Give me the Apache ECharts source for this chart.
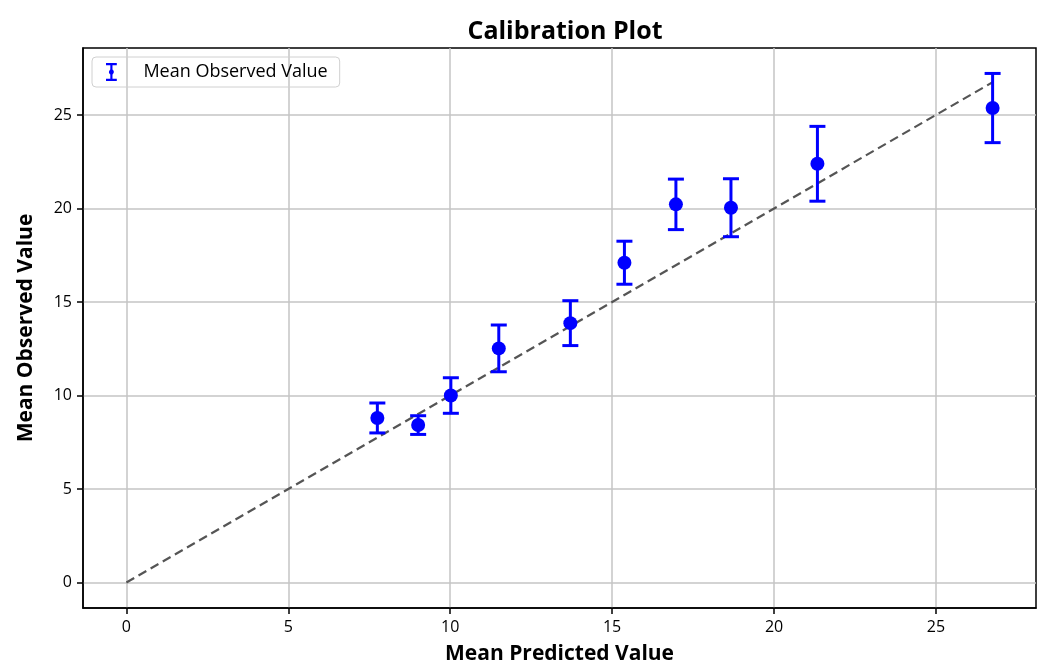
<!DOCTYPE html>
<html>
<head>
<meta charset="utf-8">
<script src="https://cdn.jsdelivr.net/npm/echarts@6/dist/echarts.min.js"></script>
<style>
  html, body { margin: 0; padding: 0; background: #fff; }
  #calib-view { width: 1046px; height: 664px; }
</style>
</head>
<body>
<div id="calib-view"></div>
<script>
// values
var predicted = [7.75, 9.01, 10.02, 11.5, 13.71, 15.38, 16.97, 18.67, 21.34, 26.75];
var observed = [8.8, 8.42, 10.0, 12.52, 13.87, 17.1, 20.22, 20.04, 22.39, 25.37];
var yerr = [0.8, 0.5, 0.95, 1.25, 1.2, 1.15, 1.35, 1.55, 2.0, 1.85];
var idealLine = [0, 26.75];
var tickValues = [0, 5, 10, 15, 20, 25];

var points = predicted.map(function (x, i) { return [x, observed[i]]; });
var bars = predicted.map(function (x, i) { return [x, observed[i] - yerr[i], observed[i] + yerr[i]]; });

var blue = "#0000ff";
var font = "Open Sans";
var errIcon = "path://M2 0H14V2.4H9.2V7.2A3.6 3.6 0 0 1 9.2 12.8V17.6H14V20H2V17.6H6.8V12.8A3.6 3.6 0 0 1 6.8 7.2V2.4H2Z";

function axisOpts(name, gap) {
  return {
    type: "value",
    name: name,
    nameLocation: "middle",
    nameGap: gap,
    nameTextStyle: { fontFamily: font, fontSize: 21, color: "#000", fontWeight: "bold" },
    axisLine: { show: true, onZero: false, lineStyle: { color: "#000", width: 1.5 } },
    axisTick: { show: true, inside: false, length: 6, lineStyle: { color: "#000", width: 1.5 }, customValues: tickValues },
    axisLabel: { fontFamily: font, fontSize: 16, color: "#000", margin: 11, customValues: tickValues },
    splitLine: { show: true, lineStyle: { color: "#c4c4c4", width: 1.5 } },
  };
}

var myChart = echarts.init(document.getElementById("calib-view"));
var xAxis = axisOpts("Mean Predicted Value", 36);
xAxis.min = -1.34;
xAxis.max = 28.09;
var yAxis = axisOpts("Mean Observed Value", 46);
yAxis.min = -1.36;
yAxis.max = 28.58;

myChart.setOption({
  animation: false,
  title: {
    text: "Calibration Plot",
    left: 560,
    textAlign: "center",
    top: 14,
    textStyle: { fontFamily: font, fontSize: 25, fontWeight: "bold", color: "#000" },
  },
  legend: {
    left: 92,
    top: 57,
    padding: [6, 12, 6, 14],
    borderColor: "#d0d0d0",
    borderWidth: 1,
    borderRadius: 4,
    itemWidth: 16,
    itemHeight: 18,
    itemGap: 10,
    textStyle: { fontFamily: font, fontSize: 18, color: "#000", padding: [0, 0, 0, 19] },
    data: [{ name: "Mean Observed Value", icon: errIcon, itemStyle: { color: blue } }],
  },
  grid: {
    left: 83,
    right: 10,
    top: 48,
    bottom: 56,
    outerBoundsMode: "none",
    containLabel: false,
    show: true,
    borderColor: "#000",
    borderWidth: 1.5,
    backgroundColor: "transparent",
  },
  xAxis: xAxis,
  yAxis: yAxis,
  series: [
    {
      name: "ideal",
      type: "line",
      data: idealLine.map(function (v) { return [v, v]; }),
      symbol: "none",
      silent: true,
      lineStyle: { color: "#555", width: 2.2, type: [9, 5] },
      z: 2,
    },
    {
      name: "Mean Observed Value",
      type: "custom",
      data: bars,
      itemStyle: { color: blue },
      renderItem: function (params, api) {
        var x = api.value(0);
        var lo = api.coord([x, api.value(1)]);
        var hi = api.coord([x, api.value(2)]);
        var half = 8;
        var style = { stroke: blue, lineWidth: 3, fill: null };
        return {
          type: "group",
          children: [
            { type: "line", shape: { x1: lo[0], y1: lo[1], x2: hi[0], y2: hi[1] }, style: style },
            { type: "line", shape: { x1: lo[0] - half, y1: lo[1], x2: lo[0] + half, y2: lo[1] }, style: style },
            { type: "line", shape: { x1: hi[0] - half, y1: hi[1], x2: hi[0] + half, y2: hi[1] }, style: style },
          ],
        };
      },
      z: 3,
    },
    {
      name: "Mean Observed Value",
      type: "scatter",
      data: points,
      symbol: "circle",
      symbolSize: 14,
      itemStyle: { color: blue, opacity: 1 },
      z: 4,
    },
  ],
});
</script>
</body>
</html>
